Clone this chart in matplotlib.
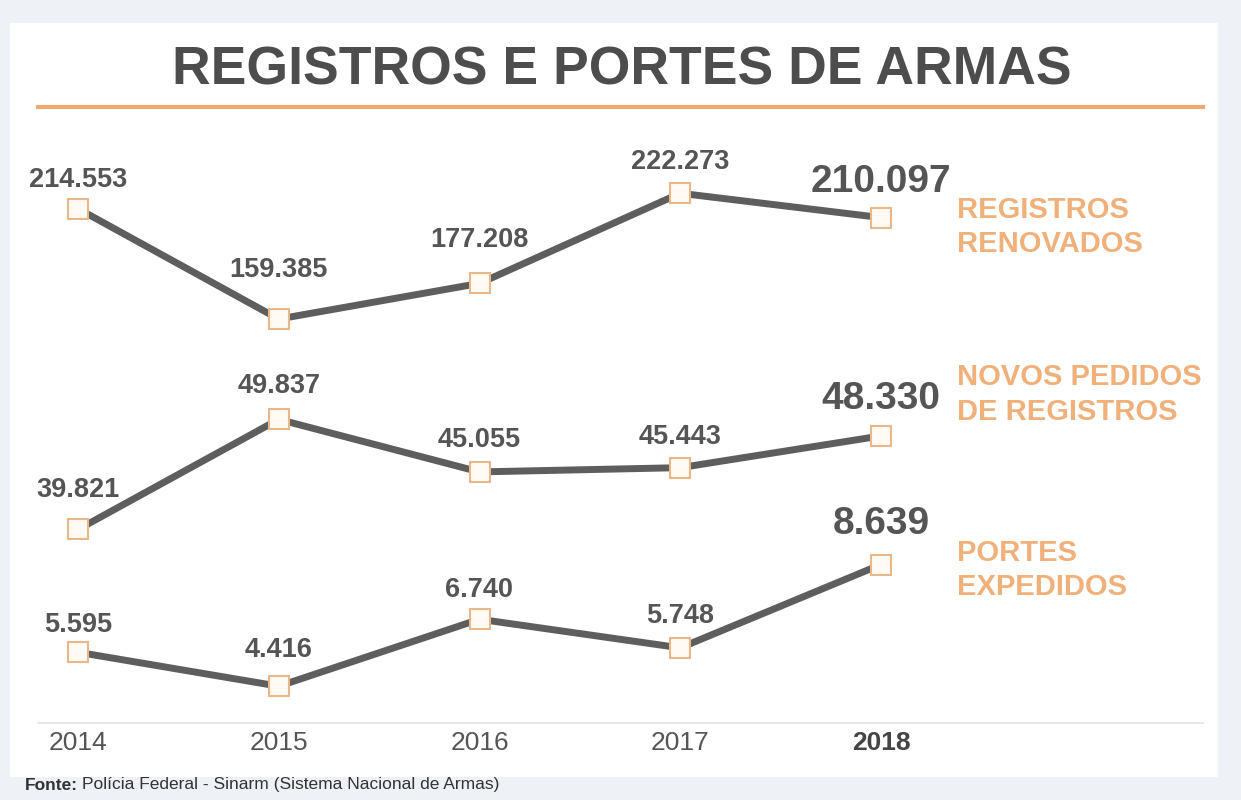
import matplotlib.pyplot as plt
from matplotlib.patches import Rectangle
from matplotlib.lines import Line2D

plt.rcParams['font.family'] = ['Liberation Sans', 'DejaVu Sans']

# dados
anos = [2014, 2015, 2016, 2017, 2018]
registros_renovados = [214553, 159385, 177208, 222273, 210097]
novos_pedidos = [39821, 49837, 45055, 45443, 48330]
portes_expedidos = [5595, 4416, 6740, 5748, 8639]
series_labels = ['REGISTROS\nRENOVADOS', 'NOVOS PEDIDOS\nDE REGISTROS', 'PORTES\nEXPEDIDOS']

# cores
GRAY_LINE = '#5e5e5e'
TXT = '#555555'
ORANGE = '#efb07a'

fig = plt.figure(figsize=(12.41, 8), dpi=100)
fig.patch.set_facecolor('#eef1f6')

# painel branco
fig.add_artist(Rectangle((10 / 1241, 23 / 800), 1208 / 1241, 754 / 800,
                         transform=fig.transFigure, facecolor='white',
                         edgecolor='none', zorder=0))

fig.text(0.501, 0.9115, 'REGISTROS E PORTES DE ARMAS', ha='center', va='center',
         fontsize=38.5, fontweight='bold', color='#4d4d4d')
fig.add_artist(Line2D([38 / 1241, 1203 / 1241], [1 - 107 / 800, 1 - 107 / 800],
                      transform=fig.transFigure, color='#eeaa70', lw=3))


def fmt(v):
    return f'{v:,}'.replace(',', '.')


# (serie, [esq, base, larg, alt], ylim, offsets dos rótulos em px, y do nome)
paineis = [
    (registros_renovados, [38 / 1241, 1 - 340 / 800, 1165 / 1241, 190 / 800],
     (148900, 243900), [29, 49, 43, 31, 36], 0.716),
    (novos_pedidos, [38 / 1241, 1 - 560 / 800, 1165 / 1241, 200 / 800],
     (37040, 55240), [39, 33, 32, 31, 37], 0.507),
    (portes_expedidos, [38 / 1241, 1 - 723 / 800, 1165 / 1241, 183 / 800],
     (3140, 9490), [27, 36, 29, 32, 41], 0.2875),
]

x0 = 2014 - 40 / 200.75
x1 = 2018 + 322 / 200.75

axes = []
for i, (vals, rect, ylim, offs, ylab) in enumerate(paineis):
    ax = fig.add_axes(rect)
    ax.patch.set_alpha(0)
    ax.plot(anos, vals, color=GRAY_LINE, lw=5, marker='s', markersize=15,
            markerfacecolor='#fffaf3', markeredgecolor='#e9b889',
            markeredgewidth=1.5, solid_capstyle='round', clip_on=False, zorder=3)
    ax.set_xlim(x0, x1)
    ax.set_ylim(*ylim)
    for j, (a, v) in enumerate(zip(anos, vals)):
        last = j == len(anos) - 1
        ax.annotate(fmt(v), (a, v), xytext=(0, offs[j] * 0.72),
                    textcoords='offset points', ha='center', va='center',
                    fontsize=28 if last else 19.5, fontweight='bold',
                    color=TXT, annotation_clip=False)
    fig.text(957 / 1241, ylab, series_labels[i], ha='left', va='center',
             fontsize=21, fontweight='bold', color=ORANGE, linespacing=1.3)
    for s in ax.spines.values():
        s.set_visible(False)
    ax.set_yticks([])
    ax.set_xticks([])
    axes.append(ax)

# eixo dos anos
ax = axes[-1]
ax.spines['bottom'].set_visible(True)
ax.spines['bottom'].set_color('#e3e3e3')
ax.spines['bottom'].set_linewidth(1.2)
ax.set_xticks(anos)
ax.set_xticklabels([str(a) for a in anos], fontsize=19)
ax.tick_params(axis='x', length=0, pad=6, colors=TXT)
ax.get_xticklabels()[-1].set_fontweight('bold')
ax.get_xticklabels()[-1].set_color('#444444')

t1 = fig.text(25 / 1241, 1 - 785 / 800, 'Fonte:', ha='left', va='center',
              fontsize=12.5, fontweight='bold', color='#333333')
ax.annotate('Polícia Federal - Sinarm (Sistema Nacional de Armas)',
            xy=(1, 0.5), xycoords=t1, xytext=(3, 0), textcoords='offset points',
            ha='left', va='center', fontsize=12.5, color='#333333',
            annotation_clip=False)

fig.savefig('out.png', dpi=100, facecolor=fig.get_facecolor())
